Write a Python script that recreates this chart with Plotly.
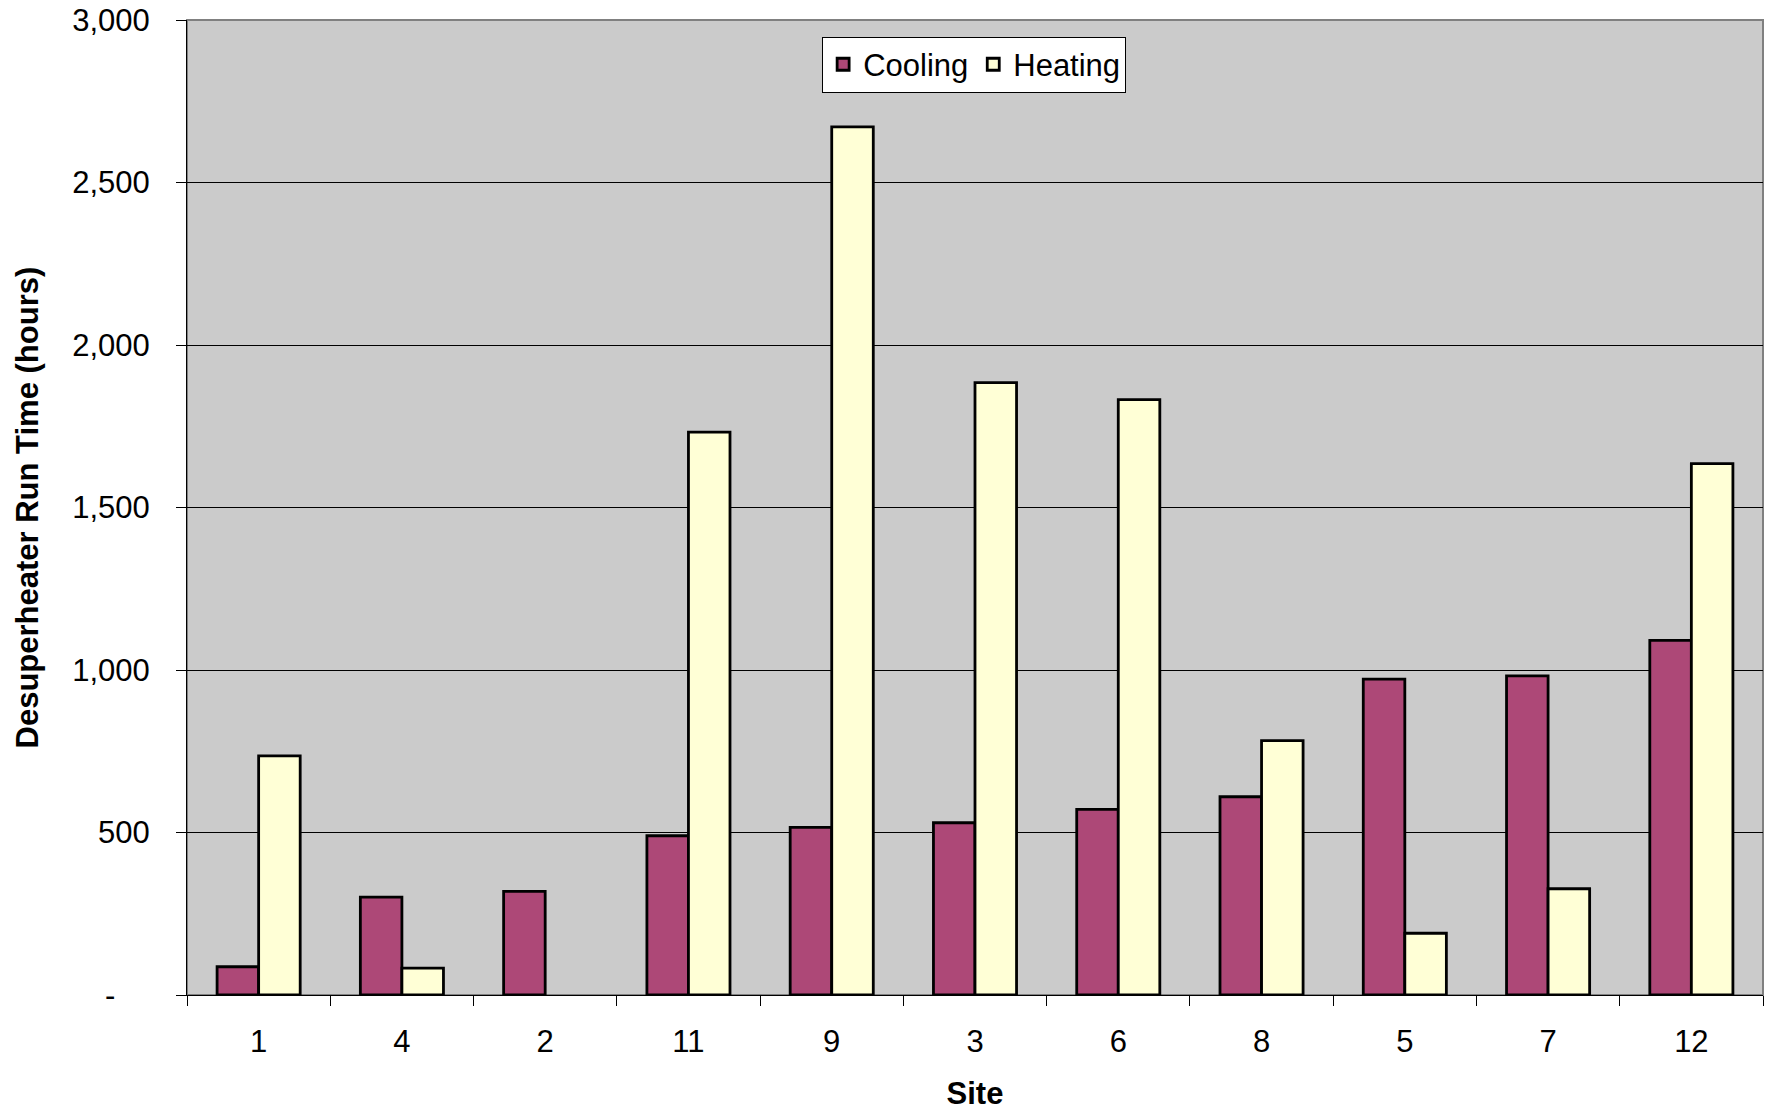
import plotly.graph_objects as go

sites = ["1", "4", "2", "11", "9", "3", "6", "8", "5", "7", "12"]
cooling = [87, 301, 319, 490, 516, 530, 571, 610, 972, 982, 1091]
heating = [736, 83, None, 1732, 2671, 1884, 1832, 783, 190, 327, 1635]

y_tickvals = [0, 500, 1000, 1500, 2000, 2500, 3000]
y_ticktext = ["-\u00a0\u00a0\u00a0\u00a0", "500", "1,000", "1,500", "2,000", "2,500", "3,000"]

FONT = "Liberation Sans, Arial, sans-serif"

fig = go.Figure()
fig.add_trace(go.Bar(name="Cooling", x=sites, y=cooling,
                     marker=dict(color="#AD4877", line=dict(color="black", width=2.8))))
fig.add_trace(go.Bar(name="Heating", x=sites, y=heating,
                     marker=dict(color="#FFFFD6", line=dict(color="black", width=2.8))))

fig.update_layout(
    width=1765, height=1111,
    margin=dict(l=187, r=2, t=20, b=116, autoexpand=False),
    paper_bgcolor="white",
    plot_bgcolor="#CBCBCB",
    barmode="group",
    bargap=0.42,
    bargroupgap=0,
    font=dict(family=FONT, size=31, color="black"),
    legend=dict(orientation="h", x=0.403, y=0.983, xanchor="left", yanchor="top",
                bgcolor="white", bordercolor="black", borderwidth=1,
                font=dict(size=31), itemwidth=30, tracegroupgap=0),
    showlegend=True,
)
fig.update_xaxes(
    type="category",
    automargin=False,
    tickson="boundaries",
    ticks="outside", ticklen=10, tickcolor="black", tickwidth=1,
    showline=True, linecolor="black", linewidth=1,
    showgrid=False,
    tickfont=dict(size=31),
    ticklabelstandoff=19,
    title=dict(text="<b>Site</b>", font=dict(size=31), standoff=28),
)
fig.update_yaxes(
    range=[0, 3000],
    automargin=False,
    tickvals=y_tickvals, ticktext=y_ticktext,
    ticks="outside", ticklen=10, tickcolor="black", tickwidth=1,
    showline=True, linecolor="black", linewidth=1,
    showgrid=True, gridcolor="black", gridwidth=1,
    zeroline=False,
    tickfont=dict(size=31),
    ticklabelstandoff=20,
    ticklabeloverflow="allow",
)
fig.add_annotation(text="<b>Desuperheater Run Time (hours)</b>", textangle=-90,
                   xref="paper", yref="paper", x=-0.1009, y=0.5,
                   xanchor="center", yanchor="middle", showarrow=False,
                   font=dict(size=31))
fig.add_shape(type="rect", xref="paper", yref="paper", x0=0, x1=1, y0=0, y1=1,
              line=dict(color="#808080", width=2), layer="below")

fig.write_html("out.html", config={"displayModeBar": False},
               post_script="document.body.style.margin='0';document.body.style.overflow='hidden';")
